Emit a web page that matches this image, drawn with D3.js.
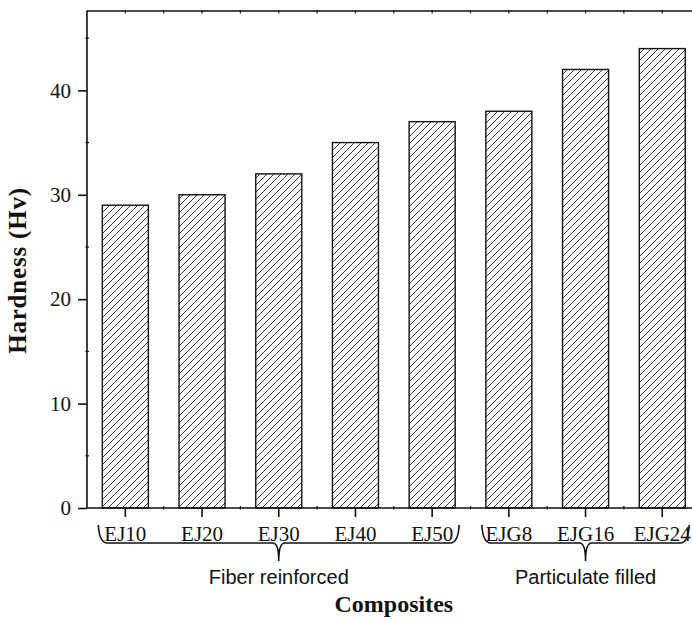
<!DOCTYPE html>
<html>
<head>
<meta charset="utf-8">
<script src="https://cdn.jsdelivr.net/npm/d3@7"></script>
<style>
  html, body { margin: 0; padding: 0; background: #fff; }
  svg { display: block; }
</style>
</head>
<body>
<svg id="chart" width="692" height="621"></svg>
<script>
// Vickers hardness of the epoxy composites
const categories = ["EJ10", "EJ20", "EJ30", "EJ40", "EJ50", "EJG8", "EJG16", "EJG24"];
const hardness = [29, 30, 32, 35, 37, 38, 42, 44];
const yTicks = [0, 10, 20, 30, 40];
const yMinorTicks = [5, 15, 25, 35, 45];

// Brace groups under the category axis
const groupNames = ["Fiber reinforced", "Particulate filled"];
const groupFirst = ["EJ10", "EJG8"];
const groupLast = ["EJ50", "EJG24"];
const groupCenter = ["EJ30", "EJG16"];

const svg = d3.select("#chart");
const serif = "'Liberation Serif', 'Times New Roman', serif";
const sans = "'Liberation Sans', Arial, sans-serif";

const plotLeft = 87, plotTop = 11, plotBottom = 508, plotRight = 700.6;

const x = d3.scaleBand()
  .domain(categories)
  .range([plotLeft, plotRight])
  .paddingInner(0.4)
  .paddingOuter(0.2);

const y = d3.scaleLinear()
  .domain([0, 47.6])
  .range([plotBottom, plotTop]);

// Diagonal hatch fill
const defs = svg.append("defs");
const pat = defs.append("pattern")
  .attr("id", "hatch")
  .attr("patternUnits", "userSpaceOnUse")
  .attr("width", 7).attr("height", 7);
pat.append("path")
  .attr("d", "M0,7 L7,0 M-1,1 L1,-1 M6,8 L8,6")
  .attr("stroke", "#222")
  .attr("stroke-width", 0.9)
  .attr("fill", "none");

// Bars
svg.append("g").selectAll("rect")
  .data(categories)
  .join("rect")
  .attr("x", d => x(d))
  .attr("width", x.bandwidth())
  .attr("y", (d, i) => y(hardness[i]))
  .attr("height", (d, i) => y(0) - y(hardness[i]))
  .attr("fill", "url(#hatch)")
  .attr("stroke", "#111")
  .attr("stroke-width", 1.4);

// Axis frame
const frame = svg.append("g").attr("stroke", "#111").attr("stroke-width", 1.6).attr("fill", "none");
frame.append("path").attr("d", `M${plotLeft},${plotBottom} V${plotTop} H${plotRight}`);
frame.append("line").attr("x1", plotLeft).attr("x2", plotRight).attr("y1", plotBottom).attr("y2", plotBottom);

// Left axis
const yAxis = svg.append("g")
  .attr("transform", `translate(${plotLeft},0)`)
  .call(d3.axisLeft(y).tickValues(yTicks).tickSize(9).tickPadding(7).tickFormat(d3.format("d")));
yAxis.select(".domain").remove();
yAxis.selectAll(".tick line").attr("stroke", "#111").attr("stroke-width", 1.6);
yAxis.selectAll(".tick text")
  .attr("font-family", serif).attr("font-size", 21).attr("fill", "#111");

svg.append("g").selectAll("line")
  .data(yMinorTicks)
  .join("line")
  .attr("x1", plotLeft - 1.5).attr("x2", plotLeft + 2)
  .attr("y1", d => y(d)).attr("y2", d => y(d))
  .attr("stroke", "#111").attr("stroke-width", 1.2);

// Bottom axis
const xAxis = svg.append("g")
  .attr("transform", `translate(0,${plotBottom})`)
  .call(d3.axisBottom(x).tickSize(9).tickPadding(9));
xAxis.select(".domain").remove();
xAxis.selectAll(".tick line").attr("stroke", "#111").attr("stroke-width", 1.6);
xAxis.selectAll(".tick text")
  .attr("font-family", serif).attr("font-size", 21).attr("fill", "#111");

// Minor ticks between categories on the bottom and top edges
const mids = categories.slice(1).map(c => x(c) - x.step() * x.paddingInner() / 2);
svg.append("g").selectAll("line")
  .data(mids)
  .join("line")
  .attr("x1", d => d).attr("x2", d => d)
  .attr("y1", plotBottom - 2).attr("y2", plotBottom + 1.5)
  .attr("stroke", "#111").attr("stroke-width", 1.2);

const topTicks = categories.map(c => x(c) + x.bandwidth() / 2).concat(mids);
svg.append("g").selectAll("line")
  .data(topTicks)
  .join("line")
  .attr("x1", d => d).attr("x2", d => d)
  .attr("y1", plotTop - 1).attr("y2", plotTop + 2.5)
  .attr("stroke", "#111").attr("stroke-width", 1.2);

// Group braces
const braceY = 543;
function bracePath(x0, x1, xm) {
  const h = 18;
  return `M${x0},${braceY - h} Q${x0 + 1},${braceY} ${x0 + 9},${braceY}` +
    ` L${xm - 6},${braceY} Q${xm},${braceY} ${xm},${braceY + h}` +
    ` Q${xm},${braceY} ${xm + 6},${braceY}` +
    ` L${x1 - 9},${braceY} Q${x1 - 1},${braceY} ${x1},${braceY - h}`;
}
const braces = svg.append("g");
groupNames.forEach((name, i) => {
  const x0 = x(groupFirst[i]) - 4;
  const x1 = x(groupLast[i]) + x.bandwidth() + 4;
  const xm = x(groupCenter[i]) + x.bandwidth() / 2;
  braces.append("path")
    .attr("d", bracePath(x0, x1, xm))
    .attr("fill", "none").attr("stroke", "#111").attr("stroke-width", 1.6);
  braces.append("text")
    .attr("x", xm).attr("y", 584)
    .attr("text-anchor", "middle")
    .attr("font-family", sans).attr("font-size", 20).attr("fill", "#111")
    .text(name);
});

// Axis titles
svg.append("text")
  .attr("x", (plotLeft + plotRight) / 2).attr("y", 612)
  .attr("text-anchor", "middle")
  .attr("font-family", serif).attr("font-weight", "bold").attr("font-size", 24).attr("fill", "#111")
  .text("Composites");

svg.append("text")
  .attr("transform", `translate(26,${(plotTop + plotBottom) / 2 + 11}) rotate(-90)`)
  .attr("text-anchor", "middle")
  .attr("font-family", serif).attr("font-weight", "bold").attr("font-size", 25)
  .attr("letter-spacing", 0.8).attr("fill", "#111")
  .text("Hardness (Hv)");
</script>
</body>
</html>
